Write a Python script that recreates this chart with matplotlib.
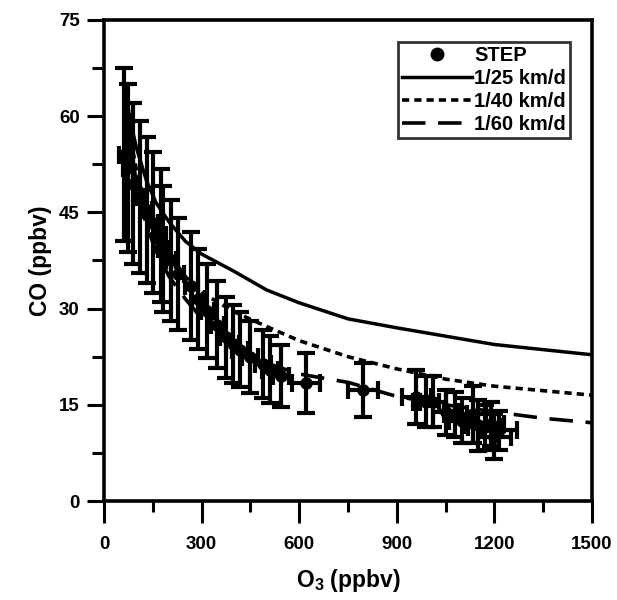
import numpy as np
import matplotlib
matplotlib.use("Agg")
import matplotlib.pyplot as plt
from matplotlib.ticker import MultipleLocator
from matplotlib.lines import Line2D

plt.rcParams['font.family'] = ['Liberation Sans', 'DejaVu Sans']
plt.rcParams['font.weight'] = 'bold'
plt.rcParams['mathtext.fontset'] = 'custom'
plt.rcParams['mathtext.rm'] = 'Liberation Sans:bold'
plt.rcParams['mathtext.it'] = 'Liberation Sans:bold'
plt.rcParams['mathtext.bf'] = 'Liberation Sans:bold'

# model curves (O3 grid shared by the three runs)
o3_model = [65, 80, 100, 130, 160, 200, 250, 300, 400, 500, 600, 750, 900, 1050, 1200, 1350, 1500]
co_25 = [64, 59.5, 55, 50, 46.5, 43.5, 40.5, 38.5, 35.8, 32.9, 30.9, 28.4, 27, 25.7, 24.4, 23.6, 22.8]
co_40 = [64, 57, 51.5, 46, 42.5, 38.5, 35, 32.5, 29.5, 27.2, 25.0, 22.5, 20.6, 19.0, 17.9, 17.2, 16.5]
co_60 = [64, 56, 49.5, 43, 39, 35, 31.5, 28.5, 24.5, 21.5, 19.8, 18.5, 16.3, 15, 13.9, 12.9, 12.2]

# STEP observations
step_o3 = [62, 74, 89, 112, 132, 150, 175, 182, 205, 226, 268, 290, 318, 348, 375, 395,
           418, 449, 489, 510, 544, 620, 796,
           960, 990, 1010, 1050, 1080, 1100, 1135, 1150, 1170, 1190, 1200, 1215]
step_co = [54.0, 51.9, 49.5, 47.4, 45.4, 43.4, 41.4, 39.3, 37.5, 35.4, 33.5, 31.5, 29.6, 27.5, 25.5, 24.5,
           23.6, 22.4, 21.4, 20.5, 19.5, 18.4, 17.3,
           16.2, 15.5, 15.5, 13.8, 13.5, 12.5, 13.5, 11.8, 11.5, 12.0, 10.0, 11.0]
step_co_err = [13.5, 13.1, 12.5, 11.9, 11.4, 11.0, 10.4, 9.8, 9.4, 8.7, 8.4, 7.8, 7.3, 6.8, 6.3, 6.1,
               5.8, 5.6, 5.3, 5.2, 4.8, 4.7, 4.2,
               4.2, 4.0, 4.0, 3.5, 3.5, 3.5, 4.5, 4.0, 3.5, 3.5, 3.5, 3.0]
step_o3_err = [15, 15, 15, 15, 15, 15, 15, 15, 15, 20, 20, 20, 20, 20, 20, 20,
               25, 25, 25, 25, 25, 43, 46,
               45, 40, 40, 40, 35, 40, 40, 45, 50, 40, 50, 55]

fig = plt.figure(figsize=(6.17, 6.0), dpi=100)
ax = fig.add_axes([0.1686, 0.165, 0.7909, 0.8017])

l25, = ax.plot(o3_model, co_25, color='black', lw=2.5, ls='-', zorder=2)
l40, = ax.plot(o3_model, co_40, color='black', lw=2.6, ls=(0, (2.0, 1.4)), zorder=2)
l60, = ax.plot(o3_model, co_60, color='black', lw=2.6, ls=(0, (6.5, 3.5)), zorder=2)

ax.errorbar(step_o3, step_co, yerr=step_co_err, xerr=step_o3_err, fmt='o', color='black',
            ms=8, elinewidth=3, capsize=6.5, capthick=3, zorder=3)

ax.set_xlim(0, 1500)
ax.set_ylim(0, 75)
ax.xaxis.set_major_locator(MultipleLocator(300))
ax.xaxis.set_minor_locator(MultipleLocator(150))
ax.yaxis.set_major_locator(MultipleLocator(15))
ax.yaxis.set_minor_locator(MultipleLocator(7.5))

for s in ax.spines.values():
    s.set_linewidth(2.6)

ax.tick_params(axis='x', which='major', direction='out', length=16, width=2.2, pad=9)
ax.tick_params(axis='x', which='minor', direction='out', length=8, width=2.2)
ax.tick_params(axis='y', which='major', direction='out', length=12.5, width=2.2, pad=5)
ax.tick_params(axis='y', which='minor', direction='out', length=8.5, width=2.2)
for lab in ax.get_xticklabels() + ax.get_yticklabels():
    lab.set_fontweight('bold')
    lab.set_fontsize(13.5)

ax.set_xlabel(r'O$_3$ (ppbv)', fontsize=16.5, fontweight='bold', labelpad=10)
ax.set_ylabel('CO (ppbv)', fontsize=16.5, fontweight='bold', labelpad=5)

step_handle = Line2D([], [], ls='none', marker='o', color='black', ms=9)
leg = ax.legend([step_handle, l25, l40, l60], ['STEP', '1/25 km/d', '1/40 km/d', '1/60 km/d'],
                loc='upper right', bbox_to_anchor=(0.955, 0.955), fontsize=14.5,
                frameon=True, fancybox=False, handlelength=3.5, handletextpad=0.1,
                borderpad=0.2, labelspacing=0.2, borderaxespad=0)
leg.get_frame().set_edgecolor('black')
leg.get_frame().set_linewidth(2)
for t in leg.get_texts():
    t.set_fontweight('bold')

fig.savefig('out.png', dpi=100)
